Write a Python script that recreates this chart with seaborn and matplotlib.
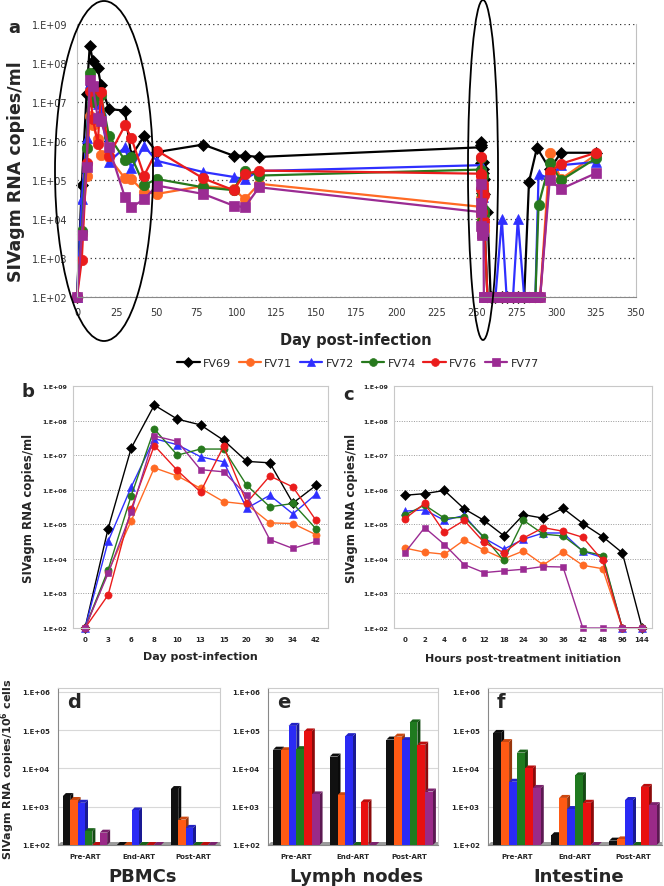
import numpy as np
import pandas as pd
import seaborn as sns
from matplotlib import pyplot as plt
from matplotlib.patches import Ellipse, Polygon, Rectangle
from matplotlib.ticker import FixedLocator, NullLocator
from matplotlib.transforms import IdentityTransform

W, H = 664, 887

ANIMALS = ["FV69", "FV71", "FV72", "FV74", "FV76", "FV77"]
LINE_COLORS = ["#000000", "#ff6a24", "#2f2fff", "#27791d", "#ea1c1c", "#9b2b93"]
BAR_COLORS = ["#111111", "#ff5a14", "#2a2af5", "#1f7a1f", "#e81010", "#9a2a88"]
MARKERS = ["D", "o", "^", "o", "o", "s"]

# panel b: acute infection, day post-infection
b_days = [0, 3, 6, 8, 10, 13, 15, 20, 30, 34, 42]
b_vl = {
    "FV69": [1e2, 7.5e4, 1.6e7, 2.8e8, 1.1e8, 7.5e7, 2.7e7, 6.6e6, 6.0e6, 4.1e5, 1.33e6],
    "FV71": [1e2, 4.2e3, 1.25e5, 4.3e6, 2.5e6, 1.1e6, 4.5e5, 3.8e5, 1.1e5, 1.05e5, 5.0e4],
    "FV72": [1e2, 3.2e4, 1.2e6, 3.0e7, 2.0e7, 9.0e6, 6.4e6, 2.9e5, 6.9e5, 2.0e5, 7.4e5],
    "FV74": [1e2, 4.8e3, 6.7e5, 5.7e7, 1.0e7, 1.5e7, 1.5e7, 1.35e6, 3.2e5, 4.0e5, 7.4e4],
    "FV76": [1e2, 9.0e2, 2.8e5, 1.9e7, 3.6e6, 8.6e5, 1.8e7, 4.2e5, 2.5e6, 1.2e6, 1.3e5],
    "FV77": [1e2, 3.8e3, 2.2e5, 3.6e7, 2.5e7, 3.8e6, 3.3e6, 6.9e5, 3.6e4, 2.0e4, 3.2e4],
}

# panel c: hours post-treatment initiation
c_hours = [0, 2, 4, 6, 12, 18, 24, 30, 36, 42, 48, 96, 144]
c_vl = {
    "FV69": [6.9e5, 7.7e5, 9.5e5, 2.8e5, 1.3e5, 4.7e4, 1.9e5, 1.5e5, 2.9e5, 1.05e5, 4.4e4, 1.5e4, 1e2],
    "FV71": [2.05e4, 1.56e4, 1.36e4, 3.5e4, 1.8e4, 1.0e4, 1.7e4, 6.7e3, 1.6e4, 6.5e3, 5.2e3, 1e2, 1e2],
    "FV72": [2.4e5, 2.6e5, 1.3e5, 1.8e5, 4.0e4, 1.9e4, 3.7e4, 5.6e4, 5.6e4, 1.65e4, 1.1e4, 1e2, 1e2],
    "FV74": [1.85e5, 3.6e5, 1.5e5, 1.6e5, 4.3e4, 9.0e3, 1.3e5, 5.2e4, 4.6e4, 1.7e4, 1.25e4, 1e2, 1e2],
    "FV76": [1.45e5, 4.0e5, 5.8e4, 1.3e5, 3.0e4, 1.5e4, 4.0e4, 8.0e4, 6.3e4, 4.2e4, 9.0e3, 1e2, 1e2],
    "FV77": [1.5e4, 8.0e4, 2.6e4, 6.8e3, 4.0e3, 4.5e3, 5.0e3, 6.0e3, 5.8e3, 1e2, 1e2, 1e2, 1e2],
}

# panel a: chronic phase, ART start day, ART and post-ART follow-up
ART_START = 253
a_mid_days = [50, 79, 98, 105, 114]
a_mid_vl = {
    "FV69": [5.2e5, 8.1e5, 4.2e5, 4.2e5, 3.9e5],
    "FV71": [4.4e4, 7.0e4, 6.0e4, 3.2e4, 8.0e4],
    "FV72": [3.1e5, 1.6e5, 1.2e5, 1.05e5, 1.7e5],
    "FV74": [1.06e5, 6.5e4, 5.5e4, 1.75e5, 1.3e5],
    "FV76": [5.7e5, 1.1e5, 5.5e4, 1.4e5, 1.75e5],
    "FV77": [7.2e4, 4.4e4, 2.2e4, 2.0e4, 6.5e4],
}
a_post_days = {
    "FV69": [262, 266, 269, 273, 276, 280, 283, 288, 296, 303, 325],
    "FV71": [262, 266, 269, 273, 276, 280, 283, 287, 290, 296, 303, 325],
    "FV72": [262, 266, 269, 273, 276, 280, 283, 287, 289, 296, 303, 325],
    "FV74": [262, 266, 269, 273, 276, 280, 283, 287, 289, 296, 303, 325],
    "FV76": [262, 266, 269, 273, 276, 280, 283, 287, 290, 296, 303, 325],
    "FV77": [262, 266, 269, 273, 276, 280, 283, 287, 290, 296, 303, 325],
}
a_post_vl = {
    "FV69": [1e2, 1e2, 1e2, 1e2, 1e2, 1e2, 9.0e4, 6.7e5, 1.9e5, 5.0e5, 5.0e5],
    "FV71": [1e2, 1e2, 1e2, 1e2, 1e2, 1e2, 1e2, 1e2, 1e2, 5.0e5, 1.06e5, 4.5e5],
    "FV72": [1e2, 1e4, 1e2, 1e2, 1e4, 1e2, 1e2, 1e2, 1.4e5, 1.1e5, 2.4e5, 2.9e5],
    "FV74": [1e2, 1e2, 1e2, 1e2, 1e2, 1e2, 1e2, 1e2, 2.3e4, 2.8e5, 9.8e4, 3.6e5],
    "FV76": [1e2, 1e2, 1e2, 1e2, 1e2, 1e2, 1e2, 1e2, 1e2, 1.6e5, 2.6e5, 5.0e5],
    "FV77": [1e2, 1e2, 1e2, 1e2, 1e2, 1e2, 1e2, 1e2, 1e2, 1.0e5, 5.9e4, 1.5e5],
}

# panels d-f: tissue viral load
bar_groups = ["Pre-ART", "End-ART", "Post-ART"]
pbmc_vl = {
    "FV69": [1.9e3, 1e2, 2.9e3],
    "FV71": [1.5e3, 1e2, 4.6e2],
    "FV72": [1.27e3, 8.0e2, 2.8e2],
    "FV74": [2.3e2, 1e2, 1e2],
    "FV76": [1e2, 1e2, 1e2],
    "FV77": [2.1e2, 1e2, 1e2],
}
lymph_vl = {
    "FV69": [3.1e4, 2.05e4, 5.7e4],
    "FV71": [3.0e4, 2.0e3, 6.8e4],
    "FV72": [1.3e5, 7.0e4, 5.5e4],
    "FV74": [3.2e4, 1e2, 1.6e5],
    "FV76": [9.3e4, 1.3e3, 4.2e4],
    "FV77": [2.1e3, 1e2, 2.5e3],
}
gut_vl = {
    "FV69": [8.5e4, 1.8e2, 1.3e2],
    "FV71": [4.9e4, 1.7e3, 1.4e2],
    "FV72": [4.5e3, 8.7e2, 1.5e3],
    "FV74": [2.6e4, 6.6e3, 1e2],
    "FV76": [1.0e4, 1.27e3, 3.3e3],
    "FV77": [3.1e3, 1e2, 1.1e3],
}

a_yticks = [1e2, 1e3, 1e4, 1e5, 1e6, 1e7, 1e8, 1e9]
bar_yticks = [1e2, 1e3, 1e4, 1e5, 1e6]
a_xticks = list(range(0, 351, 25))


def sci_labels(ticks):
    return ["1.E+%02d" % round(np.log10(t)) for t in ticks]


def px_box(x0, y0, x1, y1):
    return [x0 / W, 1 - y1 / H, (x1 - x0) / W, (y1 - y0) / H]


def fig_text(fig, x, y, s, **kw):
    fig.text(x / W, 1 - y / H, s, ha=kw.pop("ha", "center"), va=kw.pop("va", "center"), **kw)


def panel_a(fig):
    ax = fig.add_axes(px_box(77, 25, 636, 298))
    c_days = [ART_START + h / 24 for h in c_hours]
    sizes = [6.5, 7.5, 7.5, 7.5, 7.5, 7]
    for name, color, marker, ms in zip(ANIMALS, LINE_COLORS, MARKERS, sizes):
        days = b_days + a_mid_days + c_days + a_post_days[name]
        vals = b_vl[name] + a_mid_vl[name] + c_vl[name] + a_post_vl[name]
        sns.lineplot(x=days, y=vals, ax=ax, color=color, marker=marker,
                     markersize=ms, markeredgecolor=color, markeredgewidth=0.5,
                     linewidth=1.6, estimator=None, sort=False, clip_on=False,
                     label=name)
    handles, labels = ax.get_legend_handles_labels()
    if ax.get_legend() is not None:
        ax.get_legend().remove()
    ax.set_yscale("log")
    ax.set_ylim(1e2, 1e9)
    ax.set_xlim(0, 350)
    ax.yaxis.set_major_locator(FixedLocator(a_yticks))
    ax.yaxis.set_minor_locator(NullLocator())
    ax.set_yticklabels(sci_labels(a_yticks))
    ax.set_xticks(a_xticks)
    ax.tick_params(axis="y", length=0, pad=7, labelsize=7, labelcolor="#333333")
    ax.tick_params(axis="x", length=3, pad=4, labelsize=7, labelcolor="#333333",
                   color="#888888")
    ax.yaxis.grid(True, linestyle=(0, (1, 2.5)), color="#333333", linewidth=0.9)
    ax.xaxis.grid(False)
    ax.spines["top"].set_visible(False)
    for side in ["left", "right"]:
        ax.spines[side].set_color("#c0c0c0")
    ax.spines["bottom"].set_color("#888888")
    ax.set_xlabel("")
    ax.set_ylabel("")

    fig_text(fig, 16, 172, "SIVagm RNA copies/ml", rotation=90, fontsize=12.5,
             fontweight="bold")
    fig_text(fig, 356, 340, "Day post-infection", fontsize=10.5, fontweight="bold")
    fig_text(fig, 14, 28, "a", fontsize=13, fontweight="bold")

    fig.legend(handles, labels, loc="center", bbox_to_anchor=(358 / W, 1 - 364 / H),
               ncol=6, frameon=False, fontsize=8, markerscale=0.75,
               handlelength=2.0, handletextpad=0.3, columnspacing=0.7)

    # ellipses highlighting acute infection and ART initiation
    fig.add_artist(Ellipse((104 / W, 1 - 172 / H), 98 / W, 340 / H,
                           transform=fig.transFigure, fill=False, edgecolor="black",
                           linewidth=1.3))
    fig.add_artist(Ellipse((483 / W, 1 - 171 / H), 30 / W, 340 / H,
                           transform=fig.transFigure, fill=False, edgecolor="black",
                           linewidth=1.3))


def panel_line(fig, box, cats, vl, letter, letter_xy, xlabel, xlabel_xy, ylabel_x, xlim):
    ax = fig.add_axes(px_box(*box))
    pos = list(range(len(cats)))
    sizes = [4.6, 5.2, 5.2, 5.2, 5.2, 5.0]
    for name, color, marker, ms in zip(ANIMALS, LINE_COLORS, MARKERS, sizes):
        sns.lineplot(x=pos, y=vl[name], ax=ax, color=color, marker=marker,
                     markersize=ms, markeredgecolor=color, markeredgewidth=0.4,
                     linewidth=1.0, estimator=None, sort=False, clip_on=False)
    ax.set_yscale("log")
    ax.set_ylim(1e2, 1e9)
    ax.set_xlim(*xlim)
    ax.yaxis.set_major_locator(FixedLocator(a_yticks))
    ax.yaxis.set_minor_locator(NullLocator())
    ax.set_yticklabels(sci_labels(a_yticks), fontweight="bold")
    ax.set_xticks(pos)
    ax.set_xticklabels([str(c) for c in cats], fontweight="bold")
    ax.tick_params(axis="y", length=0, pad=4, labelsize=4.5)
    ax.tick_params(axis="x", length=0, pad=6, labelsize=5)
    ax.yaxis.grid(True, linestyle=(0, (1, 1.5)), color="#999999", linewidth=0.7)
    ax.xaxis.grid(False)
    for side in ax.spines.values():
        side.set_color("#c8c8c8")
        side.set_linewidth(0.8)
    ax.set_xlabel("")
    ax.set_ylabel("")
    cy = (box[1] + box[3]) / 2
    fig_text(fig, ylabel_x, cy, "SIVagm RNA copies/ml", rotation=90, fontsize=8.5,
             fontweight="bold")
    fig_text(fig, xlabel_xy[0], xlabel_xy[1], xlabel, fontsize=8, fontweight="bold")
    fig_text(fig, letter_xy[0], letter_xy[1], letter, fontsize=13, fontweight="bold")


def panel_bars(fig, box, vl, letter, title):
    ax = fig.add_axes(px_box(*box))
    rows = [(g, name, v) for name in ANIMALS for g, v in zip(bar_groups, vl[name])]
    df = pd.DataFrame(rows, columns=["group", "animal", "copies"])
    sns.barplot(data=df, x="group", y="copies", hue="animal", order=bar_groups,
                hue_order=ANIMALS, palette=BAR_COLORS, saturation=1, width=0.82,
                errorbar=None, legend=False, ax=ax, zorder=3, linewidth=0)
    bars = [p for p in ax.patches if isinstance(p, Rectangle)]
    ax.set_yscale("log")
    ax.set_ylim(1e2, 1.27e6)
    ax.set_xlim(-0.5, 2.5)
    ax.yaxis.set_major_locator(FixedLocator(bar_yticks))
    ax.yaxis.set_minor_locator(NullLocator())
    ax.set_yticklabels(sci_labels(bar_yticks), fontweight="bold")
    ax.set_xticks(range(len(bar_groups)))
    ax.set_xticklabels(bar_groups, fontweight="bold")
    ax.tick_params(axis="y", length=3, pad=3, labelsize=5, color="#888888")
    ax.tick_params(axis="x", length=0, pad=6, labelsize=5)
    ax.set_axisbelow(True)
    ax.yaxis.grid(True, color="#d8d8d8", linewidth=0.8)
    ax.xaxis.grid(False)
    for side in ["top", "right"]:
        ax.spines[side].set_color("#cccccc")
    for side in ["left", "bottom"]:
        ax.spines[side].set_color("#888888")
    ax.set_xlabel("")
    ax.set_ylabel("")

    # pseudo-3D depth: floor, side and top faces
    dx, dy = 3.0, 3.0
    to_px = ax.transData.transform
    (xl, yb), (xr, _) = to_px([(-0.5, 1e2), (2.5, 1e2)])
    floor = [(xl, yb), (xr, yb), (xr + dx, yb + dy), (xl + dx, yb + dy)]
    ax.add_artist(Polygon(floor, closed=True, transform=IdentityTransform(),
                          facecolor="#9c9c9c", edgecolor="none", zorder=2))
    for bar in bars:
        x0 = bar.get_x()
        x1 = x0 + bar.get_width()
        top = max(bar.get_height(), 1e2)
        (pa, pb), (pc, pt) = to_px([(x0, 1e2), (x1, top)])
        rgb = np.array(bar.get_facecolor()[:3])
        side = [(pc, pb), (pc, pt), (pc + dx, pt + dy), (pc + dx, pb + dy)]
        cap = [(pa, pt), (pc, pt), (pc + dx, pt + dy), (pa + dx, pt + dy)]
        ax.add_artist(Polygon(side, closed=True, transform=IdentityTransform(),
                              facecolor=rgb * 0.6, edgecolor="none", zorder=2.5))
        ax.add_artist(Polygon(cap, closed=True, transform=IdentityTransform(),
                              facecolor=rgb * 0.8, edgecolor="none", zorder=2.6))

    fig_text(fig, box[0] + 9, 703, letter, fontsize=14, fontweight="bold",
             ha="left")
    fig_text(fig, (box[0] + box[2]) / 2 + 4, 877, title, fontsize=13, fontweight="bold")


def main():
    sns.set_style("white")
    plt.rcParams["font.family"] = "DejaVu Sans"
    plt.rcParams["mathtext.default"] = "bf"
    fig = plt.figure(figsize=(W / 100, H / 100), dpi=100)

    panel_a(fig)
    panel_line(fig, (73, 387, 328, 629), b_days, b_vl, "b", (28, 392),
               "Day post-infection", (200, 657), 29, (-0.52, 10.52))
    panel_line(fig, (394, 387, 652, 629), c_hours, c_vl, "c", (349, 395),
               "Hours post-treatment initiation", (523, 659), 351, (-0.55, 12.5))

    panel_bars(fig, (58, 689, 220, 846), pbmc_vl, "d", "PBMCs")
    panel_bars(fig, (268, 689, 438, 846), lymph_vl, "e", "Lymph nodes")
    panel_bars(fig, (488, 689, 662, 846), gut_vl, "f", "Intestine")
    fig_text(fig, 8, 769, "SIVagm RNA copies/10$^{6}$ cells", rotation=90,
             fontsize=8, fontweight="bold")

    fig.savefig("out.png", dpi=100)


if __name__ == "__main__":
    main()
